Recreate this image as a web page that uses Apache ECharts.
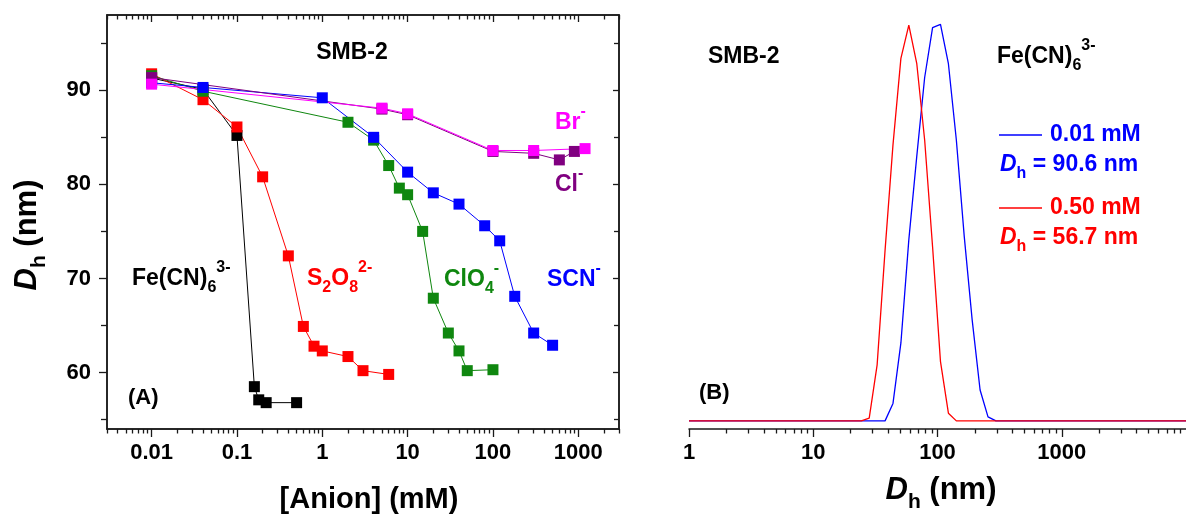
<!DOCTYPE html>
<html><head><meta charset="utf-8">
<script src="https://cdn.jsdelivr.net/npm/echarts@6/dist/echarts.min.js"></script>
<style>html,body{margin:0;padding:0;background:#fff}#c{width:1186px;height:514px}</style>
</head><body><div id="c"></div>
<script>
// ---------------- Panel A data: D_h (nm) vs [anion] (mM) ----------------
const feConc   = [0.01, 0.04, 0.1, 0.16, 0.18, 0.22, 0.5];
const feDh     = [91.3, 90.1, 85.2, 58.5, 57.1, 56.8, 56.8];
const s2o8Conc = [0.01, 0.04, 0.1, 0.2, 0.4, 0.6, 0.8, 1, 2, 3, 6];
const s2o8Dh   = [91.75, 89.0, 86.1, 80.8, 72.4, 64.9, 62.8, 62.3, 61.7, 60.2, 59.8];
const clo4Conc = [0.01, 0.04, 2, 4, 6, 8, 10, 15, 20, 30, 40, 50, 100];
const clo4Dh   = [91.55, 89.9, 86.6, 84.7, 82.0, 79.6, 78.9, 75.0, 67.9, 64.2, 62.3, 60.2, 60.3];
const scnConc  = [0.01, 0.04, 1, 4, 10, 20, 40, 80, 120, 180, 300, 500];
const scnDh    = [90.8, 90.3, 89.2, 85.0, 81.3, 79.1, 77.9, 75.6, 74.0, 68.1, 64.2, 62.9];
const clConc   = [0.01, 5, 10, 100, 300, 600, 900];
const clDh     = [91.35, 88.0, 87.4, 83.5, 83.3, 82.6, 83.5];
const brConc   = [0.01, 5, 10, 100, 300, 1200];
const brDh     = [90.65, 88.1, 87.5, 83.6, 83.6, 83.8];

// ---------------- Panel B data: size distribution ----------------
const sizeNm   = [1, 24.36, 28.21, 32.67, 37.84, 43.82, 50.75, 58.77, 68.06, 78.82, 91.28, 105.7, 122.4, 141.8, 164.2, 190.1, 220.2, 255.0, 295.3, 10000];
const dist001  = [0, 0, 0, 0, 0, 4.3, 19.2, 44.6, 65.1, 84.6, 96.9, 97.7, 88.0, 69.2, 45.4, 24.9, 7.6, 1.0, 0, 0];
const dist050  = [0, 0, 0.7, 13.8, 42.0, 68.0, 89.3, 97.5, 88.1, 69.2, 42.9, 14.6, 1.9, 0, 0, 0, 0, 0, 0, 0];

// ---------------- Ticks ----------------
const xTicksA  = [0.01, 0.1, 1, 10, 100, 1000];
const xLabelsA = ['0.01', '0.1', '1', '10', '100', '1000'];
const yTicksA  = [60, 70, 80, 90];
const yLabelsA = ['60', '70', '80', '90'];
const yMinorA  = [55, 65, 75, 85, 95];
const xTicksB  = [1, 10, 100, 1000];
const xLabelsB = ['1', '10', '100', '1000'];

function minorLog(lo, hi) {
  const out = [];
  for (let e = -4; e <= 4; e++) {
    for (let m = 2; m <= 9; m++) {
      const v = +(m * Math.pow(10, e)).toPrecision(6);
      if (v >= lo * 0.999 && v <= hi * 1.001) out.push(v);
    }
  }
  return out;
}
const xMinorA = minorLog(0.003, 3000);
const xMinorB = minorLog(1, 10000);

const FONT = '"Liberation Sans", Arial, Helvetica, sans-serif';
const AXC = '#1a1a1a';
const RED = '#ff0000', BLUE = '#0000ff', GREEN = '#0f870f', PURPLE = '#800080', MAGENTA = '#ff00ff', BLACK = '#000000';

function pair(xs, ys) { return xs.map((x, i) => [x, ys[i]]); }
function labelFor(ticks, labels) {
  return v => { let bi = 0, bd = Infinity; ticks.forEach((t, i) => { const d = Math.abs(Math.log10(v) - Math.log10(t)); if (d < bd) { bd = d; bi = i; } }); return labels[bi]; };
}
function labelForLin(ticks, labels) {
  return v => { let bi = 0, bd = Infinity; ticks.forEach((t, i) => { const d = Math.abs(v - t); if (d < bd) { bd = d; bi = i; } }); return labels[bi]; };
}

const gA = { left: 107, top: 15, width: 512, height: 414 };
const gB = { left: 689, top: 15, width: 508, height: 414 };

const tickLabel = { fontFamily: FONT, fontSize: 22, fontWeight: 'bold', color: '#000' };
const axLine = { show: true, onZero: false, lineStyle: { color: AXC, width: 1.5 } };
const noLine = { show: false, onZero: false };

function logX(gridIndex, pos, min, max, ticks, len, inside, labels, line) {
  return {
    type: 'log', logBase: 10, gridIndex, position: pos, min, max,
    axisLine: line ? axLine : noLine,
    axisTick: { show: true, customValues: ticks, length: len, inside, lineStyle: { color: AXC, width: 1.3 } },
    axisLabel: labels ? Object.assign({ show: true, customValues: ticks, margin: 13, formatter: labelFor(ticks, labels) }, tickLabel) : { show: false },
    splitLine: { show: false }, minorTick: { show: false }, minorSplitLine: { show: false }
  };
}
function linY(gridIndex, pos, min, max, ticks, len, inside, labels, line, show) {
  return {
    type: 'value', gridIndex, position: pos, min, max, show: show !== false,
    axisLine: line ? axLine : noLine,
    axisTick: { show: true, customValues: ticks, length: len, inside, lineStyle: { color: AXC, width: 1.3 } },
    axisLabel: labels ? Object.assign({ show: true, customValues: ticks, margin: 16, formatter: labelForLin(ticks, labels) }, tickLabel) : { show: false },
    splitLine: { show: false }
  };
}

const xAxis = [
  logX(0, 'bottom', 0.003, 3000, xTicksA, 8, false, xLabelsA, true),
  logX(0, 'top', 0.003, 3000, xTicksA, 7, true, null, true),
  logX(1, 'bottom', 0.003, 3000, xMinorA, 4.5, false, null, false),
  logX(1, 'top', 0.003, 3000, xMinorA, 4.5, true, null, false),
  logX(2, 'bottom', 1, 10000, xTicksB, 8, false, xLabelsB, true),
  logX(3, 'bottom', 1, 10000, xMinorB, 4.5, false, null, false)
];
const yAxis = [
  linY(0, 'left', 54, 98, yTicksA, 8, false, yLabelsA, true),
  linY(0, 'right', 54, 98, yTicksA, 6, true, null, true),
  linY(1, 'left', 54, 98, yMinorA, 6, false, null, false),
  linY(1, 'right', 54, 98, yMinorA, 5, true, null, false),
  linY(2, 'left', -2, 100, [], 0, false, null, false, false),
  linY(3, 'left', -2, 100, [], 0, false, null, false, false)
];

function sA(name, xs, ys, color) {
  return {
    type: 'line', name, xAxisIndex: 0, yAxisIndex: 0, data: pair(xs, ys),
    symbol: 'rect', symbolSize: 11, showSymbol: true,
    itemStyle: { color }, lineStyle: { color, width: 1 }, z: 3
  };
}
function sB(name, xs, ys, color) {
  return {
    type: 'line', name, xAxisIndex: 4, yAxisIndex: 4, data: pair(xs, ys),
    symbol: 'none', lineStyle: { color, width: 1.3 }, z: 3
  };
}

const series = [
  sA('Fe(CN)6', feConc, feDh, BLACK),
  sA('S2O8', s2o8Conc, s2o8Dh, RED),
  sA('ClO4', clo4Conc, clo4Dh, GREEN),
  sA('SCN', scnConc, scnDh, BLUE),
  sA('Cl', clConc, clDh, PURPLE),
  sA('Br', brConc, brDh, MAGENTA),
  sB('0.01 mM', sizeNm, dist001, BLUE),
  sB('0.50 mM', sizeNm, dist050, RED)
];

function richStyles(color, size) {
  const base = { fontFamily: FONT, fontWeight: 'bold', fill: color, verticalAlign: 'middle' };
  const sm = Math.round(size * 0.68);
  return {
    n: Object.assign({ fontSize: size }, base),
    i: Object.assign({ fontSize: size, fontStyle: 'italic' }, base),
    sub: Object.assign({ fontSize: sm, padding: [Math.round(size * 0.78), 0, 0, 0] }, base),
    sup: Object.assign({ fontSize: sm, padding: [0, 0, Math.round(size * 0.95), 0] }, base)
  };
}
function txt(x, y, text, color, size, align, rot) {
  return {
    type: 'text', x, y, rotation: rot || 0, z: 10,
    style: {
      x: 0, y: 0, text, rich: richStyles(color, size),
      fill: color, fontFamily: FONT, fontWeight: 'bold', fontSize: size,
      align: align || 'left', textAlign: align || 'left', verticalAlign: 'middle', textVerticalAlign: 'middle'
    }
  };
}
function seg(x1, x2, y, color) {
  return { type: 'line', shape: { x1, y1: y, x2, y2: y }, style: { stroke: color, lineWidth: 1.3 }, z: 10 };
}

const graphic = [
  // Panel A annotations
  txt(352, 53, '{n|SMB-2}', '#000', 23, 'center'),
  txt(555, 123, '{n|Br}{sup|-}', MAGENTA, 23),
  txt(555, 185, '{n|Cl}{sup|-}', PURPLE, 23),
  txt(132, 279, '{n|Fe(CN)}{sub|6}{sup|3-}', '#000', 23),
  txt(307, 279, '{n|S}{sub|2}{n|O}{sub|8}{sup|2-}', RED, 23),
  txt(444, 280, '{n|ClO}{sub|4}{sup|-}', GREEN, 23),
  txt(547, 280, '{n|SCN}{sup|-}', BLUE, 23),
  txt(128, 398, '{n|(A)}', '#000', 22),
  txt(369, 500, '{n|[Anion] (mM)}', '#000', 29, 'center'),
  txt(27, 235, '{i|D}{sub|h}{n| (nm)}', '#000', 31, 'center', Math.PI / 2),
  // Panel B annotations
  txt(708, 57, '{n|SMB-2}', '#000', 23),
  txt(997, 57, '{n|Fe(CN)}{sub|6}{sup|3-}', '#000', 23),
  seg(999, 1042, 135, BLUE),
  txt(1050, 135, '{n|0.01 mM}', BLUE, 23),
  txt(1000, 165, '{i|D}{sub|h}{n| = 90.6 nm}', BLUE, 23),
  seg(999, 1042, 208, RED),
  txt(1050, 208, '{n|0.50 mM}', RED, 23),
  txt(1000, 238, '{i|D}{sub|h}{n| = 56.7 nm}', RED, 23),
  txt(699, 393, '{n|(B)}', '#000', 22),
  txt(941, 490, '{i|D}{sub|h}{n| (nm)}', '#000', 31, 'center')
];

const chart = echarts.init(document.getElementById('c'), null, { renderer: 'canvas' });
chart.setOption({
  animation: false,
  backgroundColor: '#ffffff',
  grid: [
    Object.assign({ show: true, borderColor: AXC, borderWidth: 1.5, backgroundColor: 'transparent' }, gA),
    Object.assign({ show: false }, gA),
    Object.assign({ show: false }, gB),
    Object.assign({ show: false }, gB)
  ],
  xAxis, yAxis, series, graphic
});
</script>
</body></html>
